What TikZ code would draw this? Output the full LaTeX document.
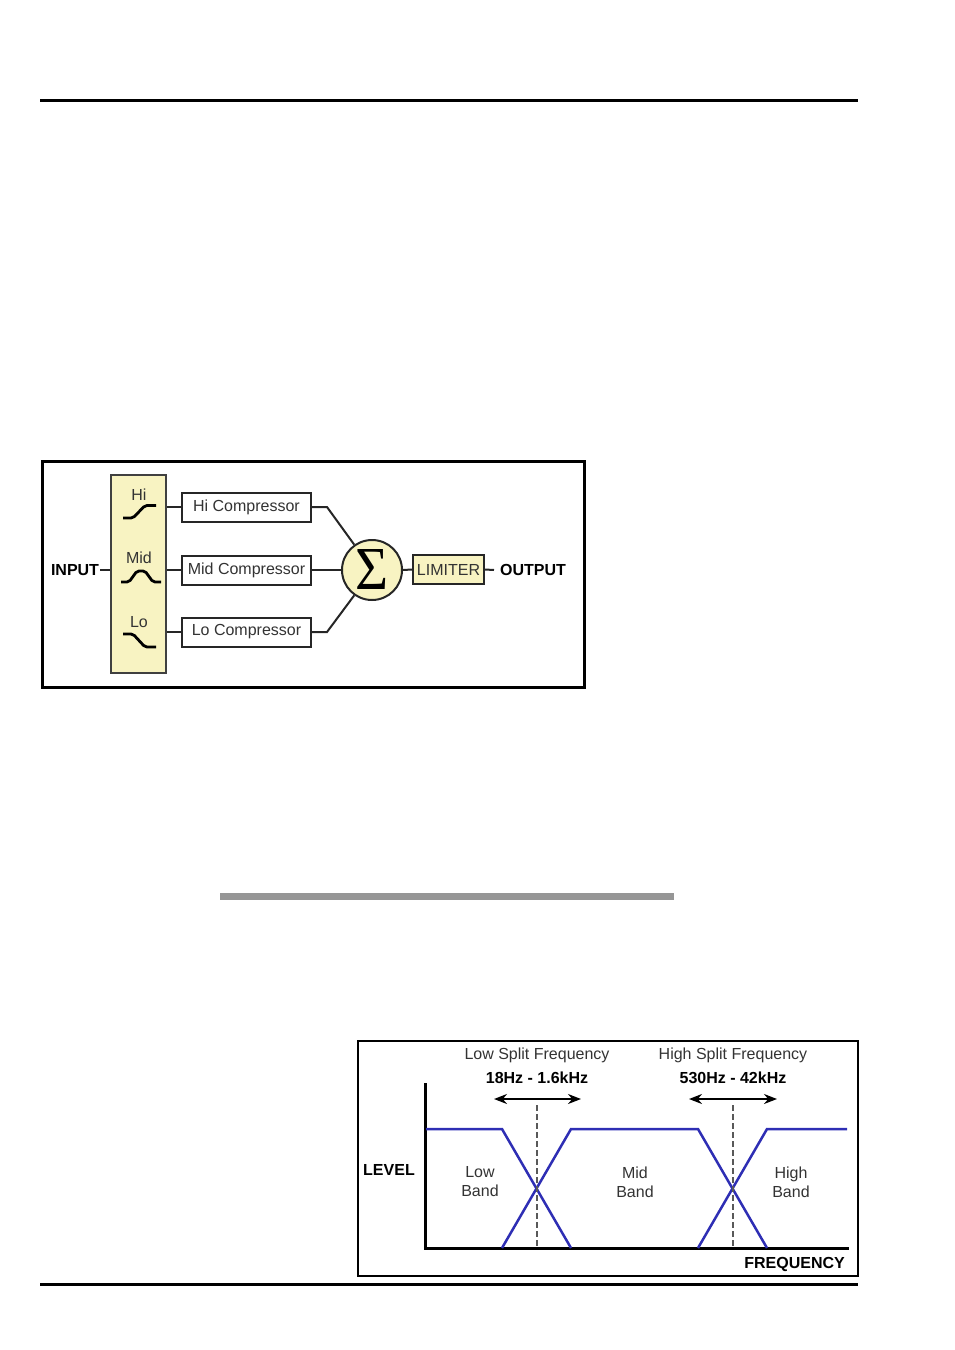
\documentclass[tikz,border=0pt]{standalone}
\usepackage{fontspec}
\usepackage{graphicx}
\setmainfont{Liberation Sans}
\newfontfamily\sigfont{Liberation Serif}
\usetikzlibrary{arrows.meta,calc}
\definecolor{pale}{HTML}{F8F3C2}
\definecolor{txt}{HTML}{333333}
\definecolor{band}{HTML}{2E2EB4}
\tikzset{
  reg/.style={font=\fontsize{16}{18}\selectfont, text=txt, inner sep=0pt},
  bld/.style={font=\fontsize{16}{18}\selectfont\bfseries, text=black, inner sep=0pt},
  flab/.style={font=\fontsize{16}{18}\selectfont, text=txt, inner sep=0pt},
  comp/.style={draw=black!85, line width=2pt, fill=white, minimum width=129pt, minimum height=29pt, inner sep=0pt, font=\fontsize{16}{18}\selectfont, text=txt},
  wire/.style={draw=black!85, line width=2pt},
  bandline/.style={draw=band, line width=2.5pt},
  curve/.style={draw=black, line width=2.8pt, rounded corners=2pt},
  tip/.style={line width=2pt, {Stealth[length=13pt,width=10pt]}-{Stealth[length=13pt,width=10pt]}},
  split/.style={black!65, line width=1.8pt, dash pattern=on 6pt off 3pt}
}
\begin{document}
\begin{tikzpicture}[x=1pt,y=-1pt]
\useasboundingbox (0,0) rectangle (954,1350);
% page rules
\fill[black] (40,98.5) rectangle (858,101.5);
\fill[black] (40,1282.5) rectangle (858,1285.5);
\fill[black!41] (220,893) rectangle (674,899.5);

% ---------- diagram 1 ----------
\draw[line width=3pt] (42,461) rectangle (584,687);
\node[draw=black!75, line width=2pt, fill=pale, minimum width=55pt, minimum height=198pt, inner sep=0pt] (bank) at (138.5,574) {};
\node[flab] (hil) at (139,495) {Hi};
\node[flab] (midl) at (139,558) {Mid};
\node[flab] (lol) at (139,622) {Lo};
\draw[curve] (123,518) -- (133,518) -- (145,505.5) -- (156,505.5);
\draw[curve] (121,582) -- (129,582) -- (137,571) -- (145,571) -- (153,582) -- (161,582);
\draw[curve] (123,634) -- (133,634) -- (145,647) -- (156,647);

\node[bld] (input) at (75,570) {INPUT};
\draw[wire] (input.east) ++(1,0) -- (bank.west|-input.east);

\node[comp] (hc) at (246.5,507) {Hi Compressor};
\node[comp] (mc) at (246.5,570) {Mid Compressor};
\node[comp] (lc) at (246.5,632) {Lo Compressor};
\draw[wire] (bank.east|-hc.west) -- (hc.west);
\draw[wire] (bank.east|-mc.west) -- (mc.west);
\draw[wire] (bank.east|-lc.west) -- (lc.west);

\node[circle, draw=black!85, line width=2pt, fill=pale, minimum size=60pt, inner sep=0pt] (sum) at (372,570) {};
\node[inner sep=0pt] (sig) at (372,569.5) {\resizebox{33pt}{40pt}{\sigfont Σ}};
\coordinate (hk) at (327,507);
\coordinate (lk) at (327,632);
\draw[wire] (hc.east) -- (hk) -- (sum.125);
\draw[wire] (lc.east) -- (lk) -- (sum.235);
\draw[wire] (mc.east) -- (sum.west);

\node[draw=black!85, line width=2pt, fill=pale, minimum width=71pt, minimum height=29pt, inner sep=0pt, font=\fontsize{16}{18}\selectfont, text=txt] (lim) at (448.5,569.5) {LIMITER};
\draw[wire] (sum.east) -- (lim.west);
\node[bld, anchor=west] (out) at (500,570) {OUTPUT};
\draw[wire] (lim.east) -- ($(out.west)+(-6,0)$);

% ---------- diagram 2 ----------
\draw[line width=2.5pt] (358,1041) rectangle (858,1276);
\coordinate (o) at (425,1248);
\coordinate (ytop) at (425,1083);
\coordinate (xend) at (849,1248);
\draw[line width=3pt] (ytop) -- (o) -- (xend);

\draw[bandline] (426,1129) -- (502,1129) -- (571,1248);
\draw[bandline] (502,1248) -- (571,1129) -- (698,1129) -- (767,1248);
\draw[bandline] (698,1248) -- (767,1129) -- (847,1129);

\draw[split] (537,1105) -- (537,1247);
\draw[split] (733,1105) -- (733,1247);

\coordinate (a1) at (494,1099);
\coordinate (a2) at (581,1099);
\coordinate (b1) at (689,1099);
\coordinate (b2) at (777,1099);
\draw[tip] (a1) -- (a2);
\draw[tip] (b1) -- (b2);

\node[reg] (lsf) at (537,1055) {Low Split Frequency};
\node[bld] (lsr) at (537,1078) {18Hz - 1.6kHz};
\node[reg] (hsf) at (733,1055) {High Split Frequency};
\node[bld] (hsr) at (733,1078) {530Hz - 42kHz};

\node[bld] (level) at (389,1170) {LEVEL};
\node[reg, align=center, font=\fontsize{16}{19}\selectfont] (lowb) at (480,1182) {Low\\Band};
\node[reg, align=center, font=\fontsize{16}{19}\selectfont] (midb) at (635,1182) {Mid\\Band};
\node[reg, align=center, font=\fontsize{16}{19}\selectfont] (highb) at (791,1182) {High\\Band};
\node[bld, anchor=east] (freq) at (845,1264) {FREQUENCY};
\end{tikzpicture}
\end{document}
